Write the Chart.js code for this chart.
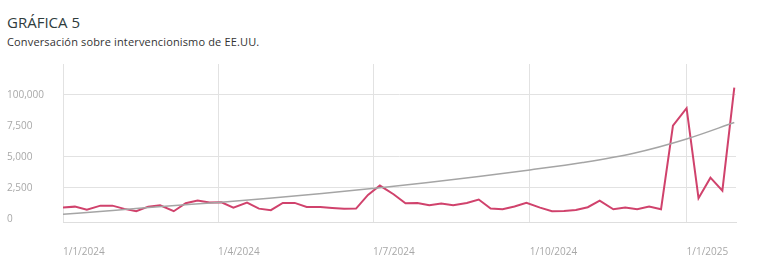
<!DOCTYPE html>
<html lang="es">
<head>
  <meta charset="UTF-8" />
  <title>Gráfica 5</title>
  <script src="https://cdn.jsdelivr.net/npm/chart.js"></script>
  <style>
    body { margin: 0; background: #fff; font-family: "Open Sans", Arial, sans-serif; }
    .wrap { position: relative; width: 780px; height: 272px; }
    h1 { position: absolute; left: 7px; top: 12px; margin: 0; font-size: 15px; font-weight: 400; color: #2f3c3d; }
    .sub { position: absolute; left: 7px; top: 34px; margin: 0; font-size: 11px; letter-spacing: 0.15px; color: #333; }
    canvas { position: absolute; left: 0; top: 0; }
  </style>
</head>
<body>
  <div class="wrap">
    <h1>GRÁFICA 5</h1>
    <p class="sub">Conversación sobre intervencionismo de EE.UU.</p>
    <canvas id="chart" width="780" height="272"></canvas>
  </div>
  <script>
    // fechas de cada punto de la serie
    const dates = [
      '2024-01-01', '2024-01-08', '2024-01-15', '2024-01-23', '2024-01-30', '2024-02-06', '2024-02-13',
      '2024-02-20', '2024-02-27', '2024-03-06', '2024-03-13', '2024-03-20', '2024-03-27', '2024-04-03',
      '2024-04-10', '2024-04-18', '2024-04-25', '2024-05-02', '2024-05-09', '2024-05-16', '2024-05-23',
      '2024-05-31', '2024-06-07', '2024-06-14', '2024-06-21', '2024-06-28', '2024-07-05', '2024-07-13',
      '2024-07-20', '2024-07-27', '2024-08-03', '2024-08-10', '2024-08-17', '2024-08-25', '2024-09-01',
      '2024-09-08', '2024-09-15', '2024-09-22', '2024-09-29', '2024-10-07', '2024-10-14', '2024-10-21',
      '2024-10-28', '2024-11-04', '2024-11-11', '2024-11-19', '2024-11-26', '2024-12-03', '2024-12-10',
      '2024-12-17', '2024-12-24', '2025-01-01', '2025-01-08', '2025-01-15', '2025-01-22', '2025-01-29'
    ];
    const mentions = [
      910, 990, 750, 1070, 1070, 810, 620, 990, 1100, 620, 1260, 1480, 1320, 1340,
      910, 1310, 830, 700, 1290, 1290, 970, 970, 880, 810, 830, 1935, 2690, 1990,
      1265, 1290, 1100, 1235, 1100, 1290, 1560, 830, 780, 1000, 1290, 910, 620, 645,
      725, 945, 1480, 780, 910, 780, 990, 780, 7520, 8930, 1670, 3330, 2280, 10590
    ];
    // línea de tendencia
    const trendDates = [
      '2024-01-01', '2024-02-01', '2024-03-01', '2024-04-01', '2024-05-01', '2024-06-01', '2024-07-01',
      '2024-08-01', '2024-09-01', '2024-10-01', '2024-11-01', '2024-12-01', '2025-01-01', '2025-01-29'
    ];
    const trendValues = [380, 700, 1020, 1330, 1660, 2040, 2460, 2920, 3420, 3950, 4550, 5300, 6450, 7780];

    const xTickDates = ['2024-01-01', '2024-04-01', '2024-07-01', '2024-10-01', '2025-01-01'];
    const xTickLabels = ['1/1/2024', '1/4/2024', '1/7/2024', '1/10/2024', '1/1/2025'];
    const yTicks = [0, 2500, 5000, 7500, 10000];
    const yTickLabels = ['0', '2,500', '5,000', '7,500', '100,000'];
    const yGridValues = [2500, 5000, 10000];

    const start = Date.UTC(2024, 0, 1);
    const toDay = s => (Date.parse(s + 'T00:00:00Z') - start) / 86400000;
    const xTickDays = xTickDates.map(toDay);

    new Chart(document.getElementById('chart'), {
      type: 'line',
      data: {
        datasets: [
          {
            data: trendDates.map((d, i) => ({ x: toDay(d), y: trendValues[i] })),
            borderColor: '#a5a5a5',
            borderWidth: 1.5,
            pointRadius: 0,
            cubicInterpolationMode: 'monotone'
          },
          {
            data: dates.map((d, i) => ({ x: toDay(d), y: mentions[i] })),
            borderColor: '#d0426c',
            borderWidth: 2,
            pointRadius: 0,
            tension: 0
          }
        ]
      },
      options: {
        responsive: false,
        animation: false,
        events: [],
        layout: { padding: { left: 7, top: 64, right: 44, bottom: 0 } },
        plugins: { legend: { display: false }, tooltip: { enabled: false } },
        scales: {
          x: {
            type: 'linear',
            min: 0,
            max: 395,
            afterFit: s => { s.height = 50; },
            afterBuildTicks: s => { s.ticks = xTickDays.map(v => ({ value: v })); },
            border: { display: true, color: '#dedede', width: 1 },
            grid: { color: '#e2e2e2', drawTicks: false },
            ticks: {
              autoSkip: false,
              maxRotation: 0,
              align: 'start',
              padding: 24,
              color: '#a8a8a8',
              font: { family: 'Open Sans', size: 10 },
              callback: v => xTickLabels[xTickDays.indexOf(v)]
            }
          },
          y: {
            min: -250,
            max: 12500,
            afterFit: s => { s.width = 56; },
            afterBuildTicks: s => { s.ticks = yTicks.map(v => ({ value: v })); },
            border: { display: false },
            grid: {
              drawTicks: false,
              color: c => yGridValues.includes(c.tick.value) ? '#e2e2e2' : 'rgba(0,0,0,0)'
            },
            ticks: {
              crossAlign: 'far',
              color: '#a8a8a8',
              font: { family: 'Open Sans', size: 10 },
              callback: v => yTickLabels[yTicks.indexOf(v)]
            }
          }
        }
      }
    });
  </script>
</body>
</html>
